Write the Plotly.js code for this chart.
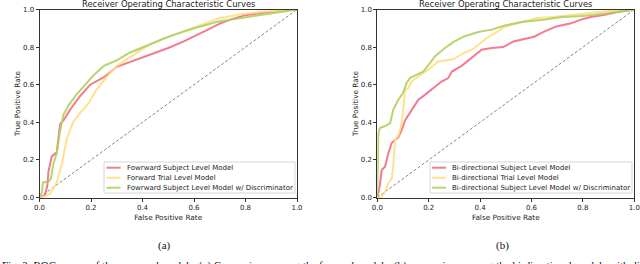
<!DOCTYPE html>
<html><head><meta charset="utf-8">
<script src="https://cdn.plot.ly/plotly-3.0.1.min.js"></script>
<style>html,body{margin:0;padding:0;background:#fff;}#chart{width:640px;height:264px;}</style>
</head><body><div id="chart"></div>
<script>
// Forward models (a)
const fwdSubjFPR = [0, 0.02, 0.03, 0.035, 0.048, 0.067, 0.08, 0.093, 0.12, 0.158, 0.197, 0.25, 0.30, 0.35, 0.40, 0.456, 0.50, 0.56, 0.60, 0.65, 0.70, 0.75, 0.80, 0.88, 0.94, 1.0];
const fwdSubjTPR = [0, 0.01, 0.06, 0.14, 0.22, 0.24, 0.39, 0.41, 0.47, 0.54, 0.60, 0.64, 0.695, 0.72, 0.745, 0.77, 0.795, 0.83, 0.855, 0.89, 0.925, 0.95, 0.97, 0.985, 0.992, 1.0];
const fwdTrialFPR = [0, 0.02, 0.04, 0.067, 0.087, 0.106, 0.13, 0.158, 0.19, 0.22, 0.26, 0.30, 0.35, 0.40, 0.43, 0.47, 0.52, 0.60, 0.69, 0.78, 0.88, 1.0];
const fwdTrialTPR = [0, 0.005, 0.02, 0.08, 0.18, 0.31, 0.40, 0.45, 0.50, 0.57, 0.64, 0.70, 0.745, 0.79, 0.815, 0.84, 0.865, 0.905, 0.95, 0.975, 0.99, 1.0];
const fwdDiscFPR = [0, 0.01, 0.013, 0.035, 0.044, 0.054, 0.067, 0.078, 0.093, 0.113, 0.145, 0.171, 0.21, 0.25, 0.30, 0.35, 0.40, 0.456, 0.51, 0.60, 0.69, 0.78, 0.88, 1.0];
const fwdDiscTPR = [0, 0.03, 0.08, 0.085, 0.10, 0.18, 0.235, 0.34, 0.44, 0.49, 0.55, 0.59, 0.65, 0.70, 0.73, 0.77, 0.80, 0.83, 0.86, 0.90, 0.935, 0.955, 0.975, 1.0];
// Bi-directional models (b)
const biSubjFPR = [0, 0.01, 0.017, 0.03, 0.043, 0.056, 0.069, 0.082, 0.095, 0.108, 0.134, 0.16, 0.185, 0.21, 0.25, 0.276, 0.29, 0.328, 0.367, 0.406, 0.445, 0.49, 0.53, 0.567, 0.61, 0.645, 0.697, 0.75, 0.79, 0.83, 0.88, 0.93, 1.0];
const biSubjTPR = [0, 0.066, 0.146, 0.164, 0.235, 0.29, 0.306, 0.32, 0.36, 0.41, 0.466, 0.52, 0.546, 0.573, 0.617, 0.635, 0.67, 0.70, 0.742, 0.786, 0.795, 0.80, 0.83, 0.84, 0.855, 0.88, 0.91, 0.925, 0.945, 0.96, 0.97, 0.985, 1.0];
const biTrialFPR = [0, 0.017, 0.03, 0.043, 0.056, 0.062, 0.069, 0.082, 0.095, 0.10, 0.105, 0.108, 0.12, 0.134, 0.16, 0.198, 0.237, 0.295, 0.34, 0.373, 0.425, 0.464, 0.50, 0.555, 0.62, 0.685, 0.814, 0.918, 1.0];
const biTrialTPR = [0, 0.004, 0.03, 0.075, 0.10, 0.164, 0.306, 0.33, 0.395, 0.466, 0.555, 0.573, 0.58, 0.617, 0.644, 0.68, 0.724, 0.735, 0.77, 0.79, 0.847, 0.88, 0.91, 0.93, 0.955, 0.96, 0.98, 0.995, 1.0];
const biDiscFPR = [0, 0.004, 0.01, 0.03, 0.05, 0.062, 0.082, 0.10, 0.114, 0.127, 0.146, 0.179, 0.21, 0.224, 0.263, 0.30, 0.34, 0.393, 0.445, 0.496, 0.567, 0.645, 0.72, 0.80, 0.88, 0.96, 1.0];
const biDiscTPR = [0, 0.34, 0.37, 0.38, 0.395, 0.466, 0.52, 0.555, 0.61, 0.635, 0.648, 0.67, 0.724, 0.75, 0.795, 0.83, 0.858, 0.88, 0.893, 0.915, 0.935, 0.945, 0.96, 0.966, 0.977, 0.99, 1.0];

const chanceLine = [0, 1];

const labelsA = ["Fowrward Subject Level Model", "Forward Trial Level Model", "Fowrward Subject Level Model w/ Discriminator"];
const labelsB = ["Bi-directional Subject Level Model", "Bi-directional Trial Level Model", "Bi-directional Subject Level Model w/ Discriminator"];
const xTicks = [0, 0.2, 0.4, 0.6, 0.8, 1.0];
const xTickText = ["0.0", "0.2", "0.4", "0.6", "0.8", "1.0"];
const plotTitle = "Receiver Operating Characteristic Curves";
const xTitle = "False Positive Rate";
const yTitle = "True Positive Rate";
const subLabels = ["(a)", "(b)"];
const caption = "Fig. 3: ROC curves of the proposed models. (a) Comparison among the forward models, (b) comparison among the bi-directional models with different models.";

const colors = ["rgba(240,100,125,0.85)", "rgba(255,222,130,0.9)", "rgba(175,208,95,0.9)"];
const FONT = "DejaVu Sans, sans-serif";

function tr(x, y, name, c, xa, ya) {
  return {x: x, y: y, name: name, type: "scatter", mode: "lines", xaxis: xa, yaxis: ya, showlegend: false,
    line: {color: c, width: 2}};
}
const traces = [
  {x: chanceLine, y: chanceLine, type: "scatter", mode: "lines", showlegend: false, xaxis: "x", yaxis: "y",
   line: {color: "#777", width: 0.9, dash: "3px,2px"}},
  tr(fwdSubjFPR, fwdSubjTPR, labelsA[0], colors[0], "x", "y"),
  tr(fwdTrialFPR, fwdTrialTPR, labelsA[1], colors[1], "x", "y"),
  tr(fwdDiscFPR, fwdDiscTPR, labelsA[2], colors[2], "x", "y"),
  {x: chanceLine, y: chanceLine, type: "scatter", mode: "lines", showlegend: false, xaxis: "x2", yaxis: "y2",
   line: {color: "#777", width: 0.9, dash: "3px,2px"}},
  tr(biSubjFPR, biSubjTPR, labelsB[0], colors[0], "x2", "y2"),
  tr(biTrialFPR, biTrialTPR, labelsB[1], colors[1], "x2", "y2"),
  tr(biDiscFPR, biDiscTPR, labelsB[2], colors[2], "x2", "y2")
];

const W = 640, H = 264;
const px = v => v / W, py = v => (H - v) / H;
const yDom = [py(197.5), py(9.5)];
function xa(dom) {
  return {domain: dom, range: [0, 1], tickvals: xTicks, ticktext: xTickText, showline: true, mirror: true,
    linecolor: "#333", linewidth: 1, ticks: "outside", ticklen: 3, tickcolor: "#333", showgrid: false,
    zeroline: false, tickfont: {family: FONT, size: 7, color: "#222"},
    title: {text: xTitle, font: {family: FONT, size: 7.3, color: "#222"}, standoff: 3}};
}
function ya(anchor) {
  return {domain: yDom, range: [0, 1], tickvals: xTicks, ticktext: xTickText, showline: true, mirror: true,
    linecolor: "#333", linewidth: 1, ticks: "outside", ticklen: 3, tickcolor: "#333", showgrid: false,
    zeroline: false, anchor: anchor, tickfont: {family: FONT, size: 7, color: "#222"},
    title: {text: yTitle, font: {family: FONT, size: 7.3, color: "#222"}, standoff: 1}};
}

// Custom compact legends (matplotlib style)
const shapes = [];
const annotations = [];
function addLegend(labels, box, lineX0, lineX1, textX) {
  shapes.push({type: "rect", xref: "paper", yref: "paper", x0: px(box[0]), x1: px(box[1]), y0: py(box[3]), y1: py(box[2]),
    line: {color: "#ccc", width: 0.8}, fillcolor: "rgba(255,255,255,0.85)", layer: "above"});
  const rows = [167.7, 177.7, 187.7];
  labels.forEach((lab, i) => {
    shapes.push({type: "line", xref: "paper", yref: "paper", x0: px(lineX0), x1: px(lineX1), y0: py(rows[i]), y1: py(rows[i]),
      line: {color: colors[i], width: 2}, layer: "above"});
    annotations.push({text: lab, xref: "paper", yref: "paper", x: px(textX), y: py(rows[i]), xanchor: "left", yanchor: "middle",
      showarrow: false, font: {family: FONT, size: 7, color: "#222"}});
  });
}
addLegend(labelsA, [104, 295, 162, 193], 106.5, 120.5, 124.5);
addLegend(labelsB, [430, 632, 162, 193], 432, 446, 449.5);

annotations.push(
  {text: plotTitle, xref: "paper", yref: "paper", x: px((39.5 + 297) / 2), y: py(4), xanchor: "center", yanchor: "middle",
   showarrow: false, font: {family: FONT, size: 8.4, color: "#222"}},
  {text: plotTitle, xref: "paper", yref: "paper", x: px((377.3 + 634.3) / 2), y: py(4), xanchor: "center", yanchor: "middle",
   showarrow: false, font: {family: FONT, size: 8.4, color: "#222"}},
  {text: subLabels[0], xref: "paper", yref: "paper", x: px(164), y: py(245), xanchor: "center", yanchor: "middle",
   showarrow: false, font: {family: "Liberation Serif, serif", size: 11, color: "#111"}},
  {text: subLabels[1], xref: "paper", yref: "paper", x: px(502), y: py(245), xanchor: "center", yanchor: "middle",
   showarrow: false, font: {family: "Liberation Serif, serif", size: 11, color: "#111"}},
  {text: caption, xref: "paper", yref: "paper", x: 0, y: py(257), xanchor: "left", yanchor: "top",
   showarrow: false, font: {family: "Liberation Serif, serif", size: 11, color: "#111"}}
);

const layout = {
  width: W, height: H, margin: {l: 0, r: 0, t: 0, b: 0}, paper_bgcolor: "#fff", plot_bgcolor: "#fff",
  showlegend: false,
  xaxis: Object.assign(xa([px(39.5), px(297)]), {anchor: "y"}),
  yaxis: ya("x"),
  xaxis2: Object.assign(xa([px(377.3), px(634.3)]), {anchor: "y2"}),
  yaxis2: ya("x2"),
  shapes: shapes,
  annotations: annotations
};
Plotly.newPlot("chart", traces, layout, {staticPlot: true, displayModeBar: false});
</script></body></html>
